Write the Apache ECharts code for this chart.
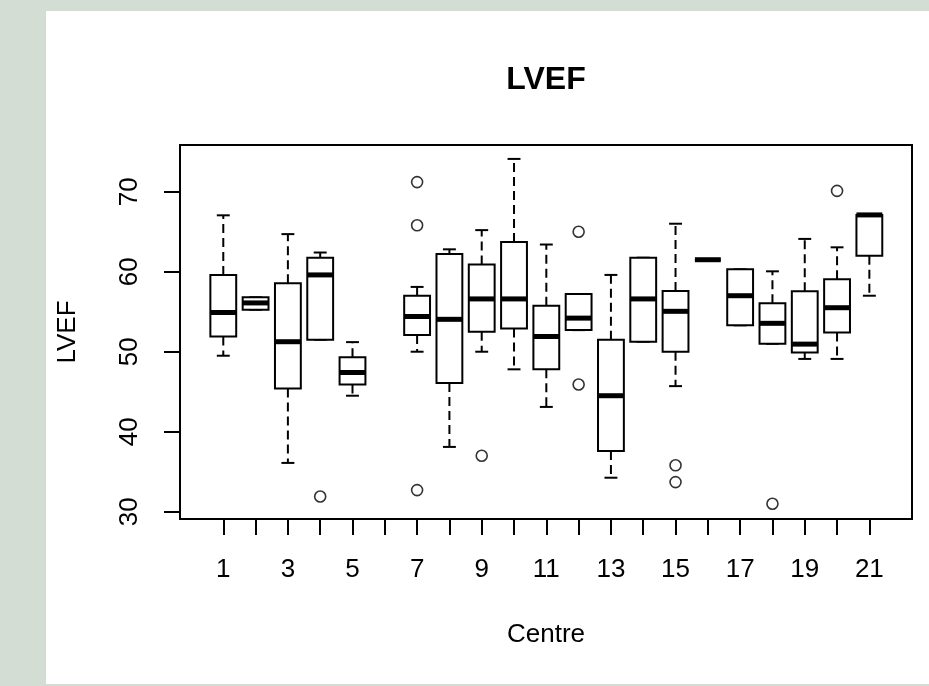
<!DOCTYPE html>
<html>
<head>
<meta charset="utf-8">
<script src="https://cdn.jsdelivr.net/npm/echarts@6/dist/echarts.min.js"></script>
<style>
  html, body { margin: 0; padding: 0; width: 929px; height: 686px; background: #d3ddd4; overflow: hidden; }
  #boxchart { position: absolute; left: 46px; top: 11px; width: 883px; height: 673px; background: #fff; }
</style>
</head>
<body>
<div id="boxchart"></div>
<script>
// box statistics per centre (centre 6 has no data)
const centres     = [1, 2, 3, 4, 5, 7, 8, 9, 10, 11, 12, 13, 14, 15, 16, 17, 18, 19, 20, 21];
const whiskerLow  = [49.5, 55.25, 36.1, 51.5, 44.5, 50.0, 38.1, 50.0, 47.8, 43.1, 52.7, 34.25, 51.25, 45.7, 61.5, 53.3, 51.0, 49.1, 49.1, 57.0];
const lowerQ      = [51.9, 55.25, 45.4, 51.5, 45.9, 52.1, 46.1, 52.5, 52.9, 47.8, 52.7, 37.6, 51.25, 50.0, 61.5, 53.3, 51.0, 49.9, 52.4, 62.0];
const medians     = [54.9, 56.1, 51.25, 59.6, 47.4, 54.4, 54.05, 56.6, 56.6, 51.9, 54.2, 44.5, 56.6, 55.05, 61.5, 57.0, 53.55, 50.95, 55.5, 67.1];
const upperQ      = [59.6, 56.8, 58.55, 61.75, 49.3, 57.0, 62.2, 60.9, 63.7, 55.75, 57.2, 51.5, 61.75, 57.6, 61.5, 60.3, 56.05, 57.55, 59.05, 67.1];
const whiskerHigh = [67.05, 56.8, 64.7, 62.4, 51.2, 58.1, 62.8, 65.2, 74.1, 63.4, 57.2, 59.6, 61.75, 66.0, 61.5, 60.3, 60.05, 64.1, 63.05, 67.1];

// outliers
const outlierCentre = [4, 7, 7, 7, 9, 12, 12, 15, 15, 18, 20];
const outlierValue  = [31.9, 71.2, 65.8, 32.7, 37.0, 65.0, 45.9, 35.8, 33.7, 31.0, 70.1];

// axis ticks
const xTicks  = [1, 2, 3, 4, 5, 6, 7, 8, 9, 10, 11, 12, 13, 14, 15, 16, 17, 18, 19, 20, 21];
const xLabels = [1, 3, 5, 7, 9, 11, 13, 15, 17, 19, 21];
const yTicks  = [30, 40, 50, 60, 70];

const chart = echarts.init(document.getElementById("boxchart"));

var boxData = centres.map(function (c, i) {
    return [c, whiskerLow[i], lowerQ[i], medians[i], upperQ[i], whiskerHigh[i]];
});
var outlierData = outlierCentre.map(function (c, i) {
    return [c, outlierValue[i]];
});

function renderBox(params, api) {
    var x = api.value(0);
    var lo = api.coord([x, api.value(1)]);
    var q1 = api.coord([x, api.value(2)]);
    var md = api.coord([x, api.value(3)]);
    var q3 = api.coord([x, api.value(4)]);
    var hi = api.coord([x, api.value(5)]);
    var w = api.size([0.8, 0], [x, api.value(3)])[0];
    var cx = md[0];
    var solid = { stroke: '#000', lineWidth: 2 };
    var dashed = { stroke: '#000', lineWidth: 2, lineDash: [9, 5] };
    return {
        type: 'group',
        children: [
            { type: 'line', shape: { x1: cx, y1: q3[1], x2: cx, y2: hi[1] }, style: dashed },
            { type: 'line', shape: { x1: cx, y1: q1[1], x2: cx, y2: lo[1] }, style: dashed },
            { type: 'line', shape: { x1: cx - w / 4, y1: hi[1], x2: cx + w / 4, y2: hi[1] }, style: solid },
            { type: 'line', shape: { x1: cx - w / 4, y1: lo[1], x2: cx + w / 4, y2: lo[1] }, style: solid },
            { type: 'rect', shape: { x: cx - w / 2, y: q3[1], width: w, height: q1[1] - q3[1] },
              style: { fill: '#fff', stroke: '#000', lineWidth: 2 } },
            { type: 'line', shape: { x1: cx - w / 2, y1: md[1], x2: cx + w / 2, y2: md[1] },
              style: { stroke: '#000', lineWidth: 5 } }
        ]
    };
}

var labelFont = {
    fontFamily: 'Liberation Sans, Arial, sans-serif',
    fontSize: 26,
    color: '#000'
};

option = {
    animation: false,
    title: {
        text: 'LVEF',
        left: 500,
        top: 53,
        textAlign: 'center',
        padding: 0,
        textStyle: {
            fontFamily: 'Liberation Sans, Arial, sans-serif',
            fontSize: 32,
            fontWeight: 'bold',
            color: '#000'
        }
    },
    grid: {
        left: 134,
        right: 17,
        top: 134,
        bottom: 165,
        show: true,
        borderColor: '#000',
        borderWidth: 2,
        backgroundColor: 'transparent',
        outerBoundsMode: 'none'
    },
    xAxis: {
        type: 'value',
        min: -0.34,
        max: 22.32,
        name: 'Centre',
        nameLocation: 'middle',
        nameGap: 103,
        nameTextStyle: labelFont,
        axisLine: { show: false, onZero: false },
        splitLine: { show: false },
        axisTick: {
            show: true,
            length: 16,
            customValues: xTicks,
            lineStyle: { color: '#000', width: 2 }
        },
        axisLabel: Object.assign({
            margin: 38,
            customValues: xLabels
        }, labelFont)
    },
    yAxis: {
        type: 'value',
        min: 29.09,
        max: 75.84,
        name: 'LVEF',
        nameLocation: 'middle',
        nameGap: 99,
        nameTextStyle: labelFont,
        axisLine: { show: false, onZero: false },
        splitLine: { show: false },
        axisTick: {
            show: true,
            length: 16,
            customValues: yTicks,
            lineStyle: { color: '#000', width: 2 }
        },
        axisLabel: Object.assign({
            margin: 37,
            rotate: 90,
            customValues: yTicks
        }, labelFont)
    },
    series: [
        {
            name: 'box',
            type: 'custom',
            renderItem: renderBox,
            encode: { x: 0, y: [1, 2, 3, 4, 5] },
            data: boxData,
            silent: true
        },
        {
            name: 'outliers',
            type: 'scatter',
            symbol: 'circle',
            symbolSize: 11,
            itemStyle: { color: 'rgba(0,0,0,0)', borderColor: '#000', borderWidth: 1.6 },
            data: outlierData,
            silent: true
        }
    ]
};
chart.setOption(option);
</script>
</body>
</html>
